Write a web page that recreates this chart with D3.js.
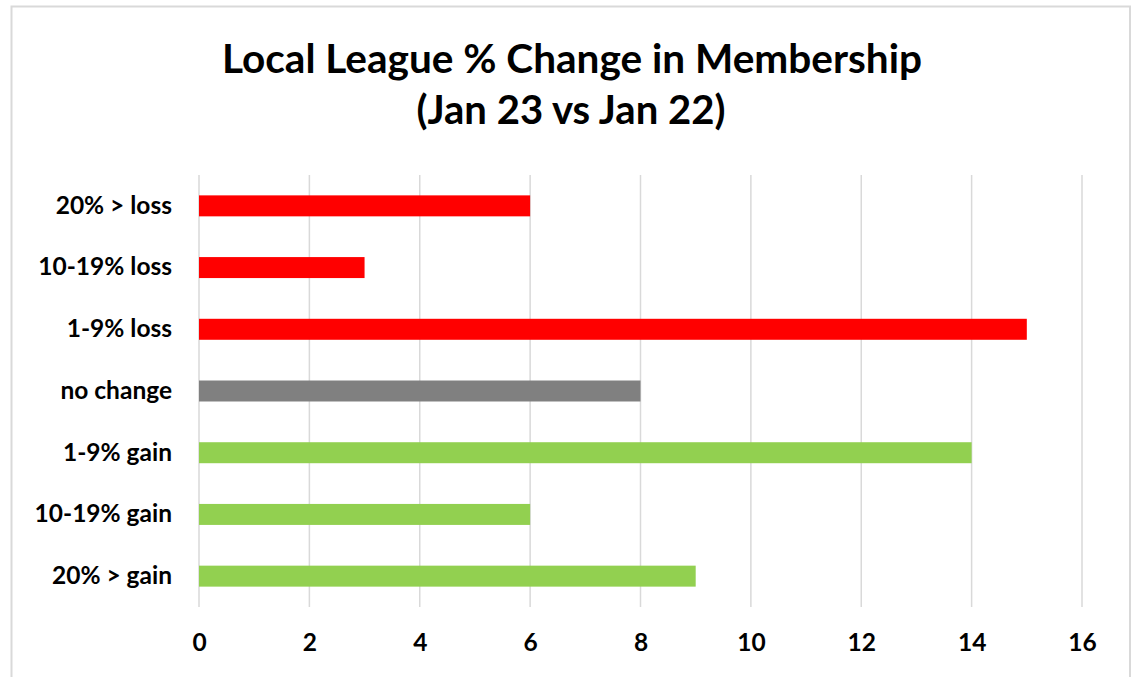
<!DOCTYPE html>
<html>
<head>
<meta charset="utf-8">
<script src="https://cdn.jsdelivr.net/npm/d3@7"></script>
<style>
	body { margin: 0; background: #fff; }
	text { font-family: Lato, "Open Sans", sans-serif; font-weight: bold; fill: #000; }
</style>
</head>
<body>
<div id="chart-container"></div>
<script>
const categories = [
	"20% > loss",
	"10-19% loss",
	"1-9% loss",
	"no change",
	"1-9% gain",
	"10-19% gain",
	"20% > gain",
];
const values = [6, 3, 15, 8, 14, 6, 9];
const barColors = ["#ff0000", "#ff0000", "#ff0000", "#808080", "#92d050", "#92d050", "#92d050"];
const xTicks = [0, 2, 4, 6, 8, 10, 12, 14, 16];
const titleLines = ["Local League % Change in Membership", "(Jan 23 vs Jan 22)"];

const width = 1134;
const height = 677;
const margin = { top: 175, right: 52, bottom: 70, left: 199 };

const svg = d3
	.select("#chart-container")
	.append("svg")
	.attr("width", width)
	.attr("height", height);

// chart frame
svg.append("rect")
	.attr("x", 11.5)
	.attr("y", 6.5)
	.attr("width", 1118.5)
	.attr("height", 700)
	.attr("fill", "none")
	.attr("stroke", "#d9d9d9")
	.attr("stroke-width", 2);

const x = d3
	.scaleLinear()
	.domain([0, 16])
	.range([margin.left, width - margin.right]);

const y = d3
	.scaleBand()
	.domain(categories)
	.range([margin.top, height - margin.bottom])
	.paddingInner(0.66)
	.paddingOuter(0.33);

// gridlines
svg.append("g")
	.selectAll("line")
	.data(xTicks)
	.join("line")
	.attr("x1", (d) => x(d))
	.attr("x2", (d) => x(d))
	.attr("y1", margin.top)
	.attr("y2", height - margin.bottom)
	.attr("stroke", "#d9d9d9")
	.attr("stroke-width", 1.5);

// bars
svg.append("g")
	.selectAll("rect")
	.data(values)
	.join("rect")
	.attr("x", x(0))
	.attr("y", (d, i) => y(categories[i]))
	.attr("width", (d) => x(d) - x(0))
	.attr("height", y.bandwidth())
	.attr("fill", (d, i) => barColors[i]);

// x axis labels
const xAxis = svg
	.append("g")
	.attr("transform", `translate(0,${height - margin.bottom})`)
	.call(d3.axisBottom(x).tickValues(xTicks).tickSize(0).tickPadding(27));
xAxis.select(".domain").remove();
xAxis.selectAll("text")
	.attr("fill", "#000")
	.style("font-family", "Lato, sans-serif")
	.style("font-weight", "bold")
	.style("font-size", "24.5px");

// y axis labels
const yAxis = svg
	.append("g")
	.attr("transform", `translate(${x(0)},0)`)
	.call(d3.axisLeft(y).tickSize(0).tickPadding(27));
yAxis.select(".domain").remove();
yAxis.selectAll("text")
	.attr("fill", "#000")
	.style("font-family", "Lato, sans-serif")
	.style("font-weight", "bold")
	.style("font-size", "24.5px");

// title
svg.append("text")
	.attr("x", 572)
	.attr("y", 72.5)
	.attr("text-anchor", "middle")
	.attr("textLength", 700)
	.attr("lengthAdjust", "spacingAndGlyphs")
	.style("font-size", "40px")
	.text(titleLines[0]);

svg.append("text")
	.attr("x", 571)
	.attr("y", 124)
	.attr("text-anchor", "middle")
	.attr("textLength", 309)
	.attr("lengthAdjust", "spacingAndGlyphs")
	.style("font-size", "40px")
	.text(titleLines[1]);
</script>
</body>
</html>
